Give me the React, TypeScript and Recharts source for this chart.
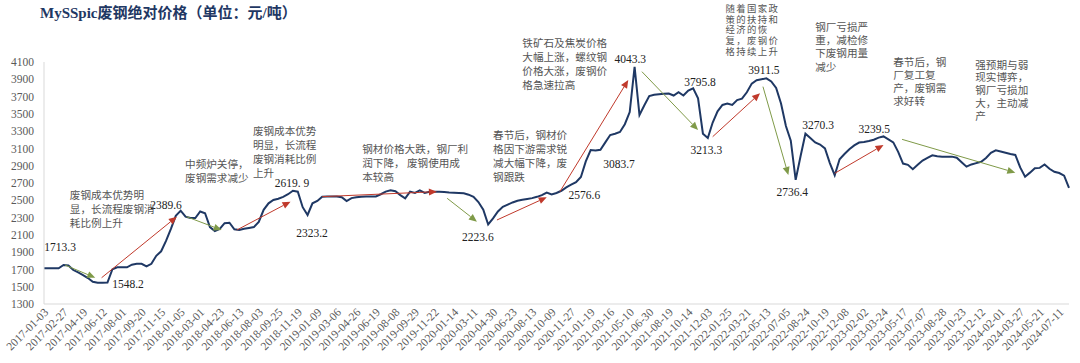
import React from 'react'
import { LineChart, Line, XAxis, YAxis, ReferenceLine, ReferenceDot } from 'recharts'

// x-axis date labels (one every 4 points)
const dateLabels = [
  '2017-01-03', '2017-02-27', '2017-04-19', '2017-06-12', '2017-08-01', '2017-09-20', '2017-11-15',
  '2018-01-05', '2018-03-01', '2018-04-23', '2018-06-13', '2018-08-03', '2018-09-25', '2018-11-19',
  '2019-01-09', '2019-03-06', '2019-04-26', '2019-06-19', '2019-08-08', '2019-09-29', '2019-11-22',
  '2020-01-14', '2020-03-11', '2020-04-30', '2020-06-23', '2020-08-13', '2020-10-09', '2020-11-27',
  '2021-01-19', '2021-03-16', '2021-05-10', '2021-06-30', '2021-08-19', '2021-10-14', '2021-12-03',
  '2022-01-25', '2022-03-21', '2022-05-13', '2022-07-05', '2022-08-24', '2022-10-19', '2022-12-08',
  '2023-02-02', '2023-03-24', '2023-05-17', '2023-07-07', '2023-08-28', '2023-10-23', '2023-12-12',
  '2024-02-01', '2024-03-27', '2024-05-21', '2024-07-11',
]

// MySSpic scrap price, yuan/ton
const prices = [
  1713, 1713, 1713, 1713, 1751, 1745, 1693, 1665, 1635, 1600,
  1558, 1545, 1545, 1548, 1700, 1724, 1724, 1724, 1755, 1765,
  1765, 1735, 1765, 1858, 1910, 2030, 2170, 2320, 2380, 2310,
  2295, 2295, 2370, 2350, 2190, 2145, 2170, 2235, 2240, 2165,
  2156, 2170, 2180, 2190, 2250, 2390, 2465, 2503, 2518, 2540,
  2570, 2610, 2600, 2420, 2330, 2465, 2492, 2542, 2545, 2545,
  2543, 2535, 2490, 2525, 2535, 2542, 2543, 2544, 2545, 2570,
  2600, 2615, 2605, 2560, 2523, 2600, 2585, 2615, 2585, 2598,
  2600, 2600, 2595, 2590, 2587, 2584, 2581, 2565, 2540, 2480,
  2390, 2220, 2290, 2370, 2425, 2450, 2475, 2495, 2506, 2515,
  2525, 2540, 2560, 2590, 2568, 2585, 2610, 2650, 2680, 2710,
  2770, 2950, 3082, 3075, 3085, 3170, 3255, 3270, 3290, 3380,
  3520, 4043, 3487, 3600, 3705, 3720, 3727, 3733, 3735, 3712,
  3750, 3712, 3770, 3796, 3680, 3270, 3220, 3400, 3530, 3603,
  3620, 3603, 3660, 3676, 3750, 3850, 3890, 3900, 3911, 3875,
  3800, 3620, 3360, 3190, 2736, 3010, 3270, 3220, 3170, 3145,
  3100, 2930, 2790, 2975, 3035, 3090, 3135, 3168, 3175, 3185,
  3200, 3225, 3239, 3205, 3170, 3060, 2925, 2910, 2860, 2910,
  2960, 2990, 3020, 3010, 3005, 3005, 3005, 2993, 2940, 2889,
  2915, 2930, 2945, 2990, 3050, 3078, 3065, 3050, 3035, 3024,
  2880, 2773, 2820, 2870, 2875, 2915, 2865, 2830, 2815, 2785,
  2645,
]

const yTicks = [1300, 1500, 1700, 1900, 2100, 2300, 2500, 2700, 2900, 3100, 3300, 3500, 3700, 3900, 4100]

// trend arrows: [fromIndex, fromValue, toIndex, toValue]
const upArrows = [
  [11.8, 1604, 27.2, 2310],
  [39.5, 2156, 50.5, 2484],
  [57, 2542, 80.5, 2600],
  [92.8, 2272, 103, 2535],
  [105.7, 2600, 119.7, 3892],
  [137, 3236, 146.7, 3738],
  [162, 2812, 172, 3140],
]
const downArrows = [
  [4.3, 1751, 10.5, 1604],
  [29.2, 2310, 36.4, 2156],
  [82.6, 2523, 88.7, 2253],
  [122.5, 3988, 134, 3313],
  [147.3, 3815, 152.5, 2793],
  [175.8, 3205, 199, 2820],
]

// value callouts
const valueLabels = [
  { text: '1713.3', i: 3.3, v: 1960 },
  { text: '1548.2', i: 17.2, v: 1531 },
  { text: '2389.6', i: 25.0, v: 2445 },
  { text: '2619. 9', i: 50.8, v: 2700 },
  { text: '2323.2', i: 54.9, v: 2121 },
  { text: '2223.6', i: 88.9, v: 2075 },
  { text: '2576.6', i: 110.7, v: 2561 },
  { text: '3083.7', i: 117.8, v: 2920 },
  { text: '4043.3', i: 120.1, v: 4135 },
  { text: '3795.8', i: 134.4, v: 3869 },
  { text: '3213.3', i: 135.7, v: 3082 },
  { text: '3911.5', i: 147.5, v: 4007 },
  { text: '2736.4', i: 153.3, v: 2596 },
  { text: '3270.3', i: 158.6, v: 3371 },
  { text: '3239.5', i: 170.1, v: 3325 },
]

// commentary blocks
const notes = [
  { i: 5.3, v: 2561, lh: 14, fs: 10.6, lines: ['废钢成本优势明', '显，长流程废钢消', '耗比例上升'] },
  { i: 28.9, v: 2920, lh: 14, fs: 10.6, lines: ['中频炉关停，', '废钢需求减少'] },
  { i: 42.8, v: 3302, lh: 14, fs: 10.6, lines: ['废钢成本优势', '明显，长流程', '废钢消耗比例', '上升'] },
  { i: 65.2, v: 3093, lh: 14, fs: 10.6, lines: ['钢材价格大跌，钢厂利', '润下降， 废钢使用成', '本较高'] },
  { i: 92.0, v: 3255, lh: 14, fs: 10.6, lines: ['春节后，钢材价', '格因下游需求锐', '减大幅下降，废', '钢跟跌'] },
  { i: 98.0, v: 4320, lh: 14, fs: 10.6, lines: ['铁矿石及焦炭价格', '大幅上涨，螺纹钢', '价格大涨，废钢价', '格急速拉高'] },
  { i: 139.6, v: 4715, lh: 10.6, fs: 9.4, lines: ['随着国家政', '策的扶持和', '经济的恢', '复，废钢价', '格持续上升'] },
  { i: 158.0, v: 4505, lh: 13.3, fs: 10.6, lines: ['钢厂亏损严', '重，减检修', '下废钢用量', '减少'] },
  { i: 174.0, v: 4100, lh: 13, fs: 10.6, lines: ['春节后，钢', '厂复工复', '产，废钢需', '求好转'] },
  { i: 190.8, v: 4065, lh: 12.7, fs: 10.6, lines: ['强预期与弱', '现实博弈，', '钢厂亏损加', '大，主动减', '产'] },
]

const chartData = prices.map((price, i) => ({ i, price }))
const xTicks = dateLabels.map((_, k) => k * 4)

const serif = "'Liberation Serif', 'Times New Roman', serif"
const cjk = "'Noto Sans CJK SC', sans-serif"

const makeArrow = (color: string) => (props: any) => {
  const { x1, y1, x2, y2 } = props
  const ang = Math.atan2(y2 - y1, x2 - x1)
  const len = 8
  const w = 3.5
  const bx = x2 - len * Math.cos(ang)
  const by = y2 - len * Math.sin(ang)
  const px = -Math.sin(ang) * w
  const py = Math.cos(ang) * w
  return (
    <g>
      <line x1={x1} y1={y1} x2={bx} y2={by} stroke={color} strokeWidth={1} />
      <polygon points={`${x2},${y2} ${bx + px},${by + py} ${bx - px},${by - py}`} fill={color} />
    </g>
  )
}

const DateTick = ({ x, y, payload }: any) => {
  const label = dateLabels[Math.round(payload.value / 4)]
  const ax = x + 5
  return (
    <text x={ax} y={y} textAnchor="end" fontFamily={serif} fontSize={11.5} fill="#595959"
      transform={`rotate(-45, ${ax}, ${y})`}>
      {label}
    </text>
  )
}

export default function App() {
  return (
    <div style={{ position: 'absolute', left: 0, top: 0, width: 1080, height: 363, background: '#fff' }}>
      <div style={{
        position: 'absolute', left: 40, top: 4, fontSize: 15, lineHeight: '18px', fontWeight: 'bold',
        color: '#1f3864', fontFamily: "'Liberation Serif', 'Noto Sans CJK SC', serif", whiteSpace: 'nowrap',
      }}>
        MySSpic废钢绝对价格（单位：元/吨）
      </div>
      <LineChart width={1080} height={363} data={chartData} margin={{ top: 62, right: 11, bottom: 0, left: 0 }}>
        <XAxis
          dataKey="i"
          type="number"
          domain={[0, 210]}
          ticks={xTicks}
          interval={0}
          height={59}
          tickSize={0}
          tickMargin={9}
          tickLine={false}
          axisLine={{ stroke: '#d9d9d9' }}
          tick={<DateTick />}
        />
        <YAxis
          domain={[1300, 4100]}
          ticks={yTicks}
          interval={0}
          width={44}
          tickSize={0}
          tickMargin={10}
          tickLine={false}
          axisLine={{ stroke: '#d9d9d9' }}
          tick={{ fontFamily: serif, fontSize: 11.5, fill: '#595959' }}
        />
        <Line
          type="linear"
          dataKey="price"
          stroke="#1f3864"
          strokeWidth={2}
          dot={false}
          isAnimationActive={false}
        />
        {upArrows.map(([a, b, c, d], k) => (
          <ReferenceLine key={`u${k}`} ifOverflow="visible" segment={[{ x: a, y: b }, { x: c, y: d }]}
            shape={makeArrow('#c0392b')} />
        ))}
        {downArrows.map(([a, b, c, d], k) => (
          <ReferenceLine key={`d${k}`} ifOverflow="visible" segment={[{ x: a, y: b }, { x: c, y: d }]}
            shape={makeArrow('#7f9a48')} />
        ))}
        {valueLabels.map((l, k) => (
          <ReferenceDot key={`v${k}`} x={l.i} y={l.v} r={0} ifOverflow="visible"
            shape={(p: any) => (
              <text x={p.cx} y={p.cy} dy="0.35em" textAnchor="middle" fontFamily={serif} fontSize={11.5} fill="#222">
                {l.text}
              </text>
            )} />
        ))}
        {notes.map((n, k) => (
          <ReferenceDot key={`n${k}`} x={n.i} y={n.v} r={0} ifOverflow="visible"
            shape={(p: any) => (
              <text fontFamily={cjk} fontSize={n.fs} fill="#555" letterSpacing={n.fs < 10 ? 1.4 : 0}>
                {n.lines.map((s, j) => (
                  <tspan key={j} x={p.cx} y={p.cy + j * n.lh} dy="0.35em">{s}</tspan>
                ))}
              </text>
            )} />
        ))}
      </LineChart>
    </div>
  )
}
